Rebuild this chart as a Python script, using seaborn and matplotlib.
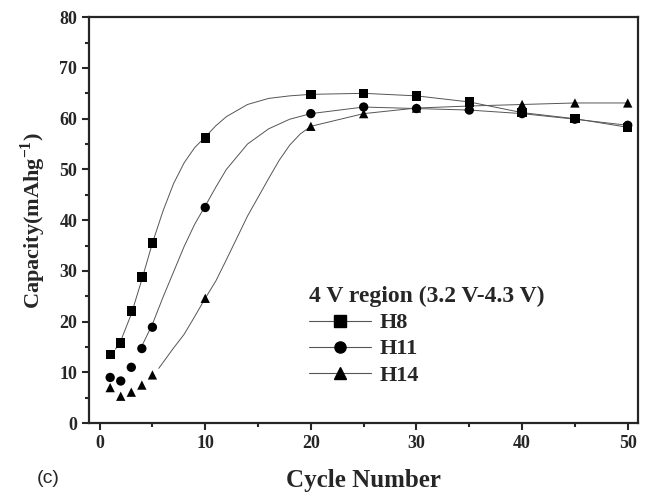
import numpy as np
import pandas as pd
import matplotlib
matplotlib.use("Agg")
import matplotlib.pyplot as plt
from matplotlib.lines import Line2D
from matplotlib.ticker import MultipleLocator
import seaborn as sns

# === measured points ===
cycles = [1, 2, 3, 4, 5, 10, 20, 25, 30, 35, 40, 45, 50]
h8 = [13.5, 15.8, 22.1, 28.8, 35.5, 56.2, 64.8, 65.0, 64.5, 63.3, 61.2, 60.0, 58.3]
h11 = [9.0, 8.3, 11.0, 14.7, 18.9, 42.5, 61.0, 62.3, 62.0, 61.7, 61.0, 59.9, 58.7]
h14 = [7.0, 5.3, 6.1, 7.5, 9.5, 24.6, 58.5, 61.0, 62.1, 62.5, 62.8, 63.1, 63.1]

# === fitted guide curves ===
h8_fit_x = [1.5, 2, 3, 4, 5, 6, 7, 8, 9, 10, 11, 12, 14, 16, 18, 20, 25, 30, 35, 40, 45, 50]
h8_fit_y = [14.6, 16.2, 21.5, 28.3, 35.5, 41.8, 47.2, 51.3, 54.3, 56.4, 58.6, 60.4, 62.8, 64.0, 64.5, 64.8,
            65.0, 64.5, 63.3, 61.2, 60.0, 58.3]
h11_fit_x = [4, 5, 6, 7, 8, 9, 10, 11, 12, 14, 16, 18, 20, 25, 30, 35, 40, 45, 50]
h11_fit_y = [15.2, 19.5, 24.8, 29.8, 34.8, 39.2, 42.8, 46.5, 50.0, 55.0, 58.0, 59.9, 61.0,
             62.3, 62.0, 61.7, 61.0, 59.9, 58.7]
h14_fit_x = [5.6, 7, 8, 9, 10, 11, 12, 14, 16, 17, 18, 19, 20, 25, 30, 35, 40, 45, 50]
h14_fit_y = [10.8, 14.8, 17.5, 21.0, 24.6, 28.0, 32.2, 40.8, 48.2, 51.8, 54.8, 57.0, 58.5,
             61.0, 62.1, 62.5, 62.8, 63.1, 63.1]

labels = ["H8", "H11", "H14"]
markers = ["s", "o", "^"]

pts = pd.concat([
    pd.DataFrame({"cycle": cycles, "cap": h8, "sample": "H8"}),
    pd.DataFrame({"cycle": cycles, "cap": h11, "sample": "H11"}),
    pd.DataFrame({"cycle": cycles, "cap": h14, "sample": "H14"}),
])
fits = pd.concat([
    pd.DataFrame({"cycle": h8_fit_x, "cap": h8_fit_y, "sample": "H8"}),
    pd.DataFrame({"cycle": h11_fit_x, "cap": h11_fit_y, "sample": "H11"}),
    pd.DataFrame({"cycle": h14_fit_x, "cap": h14_fit_y, "sample": "H14"}),
])

sns.set_style("ticks")
plt.rcParams["font.family"] = ["Liberation Serif", "DejaVu Serif"]
plt.rcParams["mathtext.fontset"] = "custom"
plt.rcParams["mathtext.rm"] = "Liberation Serif:bold"
plt.rcParams["mathtext.bf"] = "Liberation Serif:bold"

fig = plt.figure(figsize=(6.5, 4.92), dpi=100)
ax = fig.add_axes([0.137, 0.140, 0.845, 0.825])

sns.lineplot(data=fits, x="cycle", y="cap", units="sample", estimator=None, sort=False,
             color="#555555", linewidth=0.7, ax=ax, legend=False)
sns.scatterplot(data=pts, x="cycle", y="cap", style="sample", markers=dict(zip(labels, markers)),
                color="black", s=45, edgecolor="black", linewidth=0, ax=ax, legend=False, zorder=3)

ax.set_xlim(-1, 51)
ax.set_ylim(0, 80)
ax.xaxis.set_major_locator(MultipleLocator(10))
ax.xaxis.set_minor_locator(MultipleLocator(5))
ax.yaxis.set_major_locator(MultipleLocator(10))
ax.yaxis.set_minor_locator(MultipleLocator(5))
ax.tick_params(which="both", direction="out", width=1.5, top=False, right=False)
ax.tick_params(which="major", length=5, labelsize=13)
ax.tick_params(which="minor", length=3)
for lab in ax.get_xticklabels() + ax.get_yticklabels():
    lab.set_fontweight("bold")
for sp in ax.spines.values():
    sp.set_linewidth(1.6)
    sp.set_visible(True)

ax.set_xlabel("Cycle Number", fontsize=18, fontweight="bold", labelpad=12)
ax.set_ylabel(r"Capacity(mAhg$^{-1}$)", fontsize=16, fontweight="bold", labelpad=8)

handles = [Line2D([0], [0], color="#555555", linewidth=0.8, marker=m, markersize=8,
                  markerfacecolor="black", markeredgecolor="black") for m in markers]
leg = ax.legend(handles, labels, title="4 V region (3.2 V-4.3 V)", loc="upper left",
                bbox_to_anchor=(0.38, 0.365), frameon=False, handlelength=2.8,
                fontsize=16, title_fontsize=17, labelspacing=0.25, alignment="left",
                borderpad=0, handletextpad=0.4)
leg.get_title().set_fontweight("bold")
for t in leg.get_texts():
    t.set_fontweight("bold")

fig.text(0.057, 0.028, "(c)", fontsize=14, va="center", family=["Liberation Sans", "DejaVu Sans"])

fig.savefig("out.png", dpi=100)
